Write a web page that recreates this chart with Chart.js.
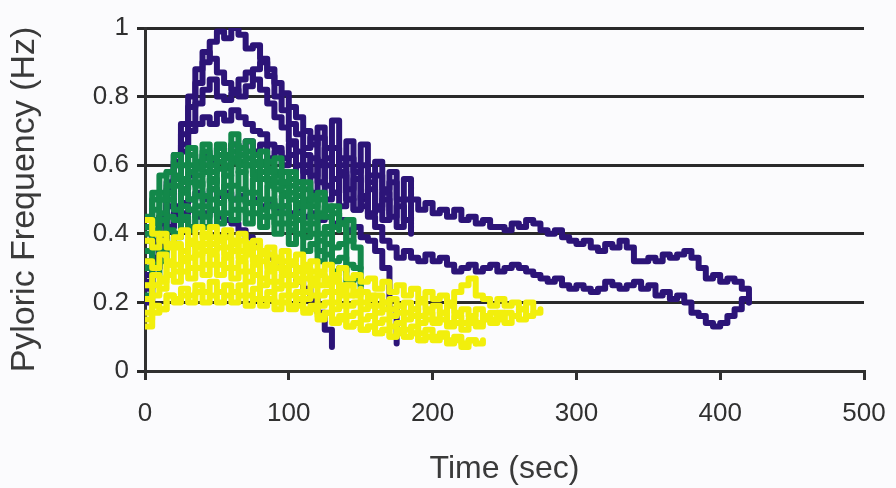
<!DOCTYPE html>
<html>
<head>
<meta charset="utf-8">
<script src="https://cdn.jsdelivr.net/npm/chart.js@4.4.1/dist/chart.umd.min.js"></script>
<style>
  html, body { margin: 0; padding: 0; background: #fbfbfd; }
  #wrap { width: 896px; height: 488px; }
</style>
</head>
<body>
<div id="wrap"><canvas id="pyloric" width="896" height="488"></canvas></div>
<script>
// sample times (sec), shared by every trace
const TIME_SEC = [0,5,10,15,20,25,30,35,40,45,50,55,60,65,70,75,80,85,90,95,
  100,105,110,115,120,125,130,135,140,145,150,155,160,165,170,175,180,185,190,195,
  200,205,210,215,220,225,230,235,240,245,250,255,260,265,270,275,280,285,290,295,
  300,305,310,315,320,325,330,335,340,345,350,355,360,365,370,375,380,385,390,395,
  400,405,410,415,420];

const X_TICKS = ["0", "100", "200", "300", "400", "500"];
const Y_TICKS = ["0", "0.2", "0.4", "0.6", "0.8", "1"];

// purple traces (Hz)
const purpleA = [0.32,0.37,0.43,0.52,0.61,0.69,0.77,0.84,0.9,0.96,0.99,0.97,1.0,0.98,0.94,0.95,0.91,0.88,0.84,0.81,
  0.77,0.74,0.7,0.66,0.71,0.62,0.73,0.6,0.67,0.58,0.66,0.55,0.61,0.53,0.58,0.5,0.56,0.5,0.47,0.49,
  0.46,0.47,0.45,0.47,0.44,0.45,0.43,0.44,0.42,0.42,0.41,0.43,0.42,0.44,0.43,0.41,0.4,0.41,0.39,0.38,
  0.37,0.38,0.36,0.35,0.37,0.36,0.38,0.36,0.32,0.32,0.33,0.32,0.34,0.33,0.34,0.35,0.33,0.3,0.27,0.28,
  0.26,0.27,0.26,0.24,0.2];
const purpleB = [0.28,0.33,0.4,0.48,0.56,0.64,0.72,0.78,0.82,0.85,0.8,0.79,0.81,0.85,0.87,0.85,0.82,0.78,0.74,0.71,
  0.67,0.64,0.6,0.57,0.61,0.54,0.52,0.57,0.5,0.47,0.51,0.45,0.42,0.38,0.36,0.33,0.35,0.33,0.32,0.34,
  0.32,0.33,0.31,0.29,0.3,0.31,0.29,0.3,0.31,0.29,0.3,0.31,0.3,0.29,0.28,0.27,0.26,0.27,0.25,0.24,
  0.25,0.24,0.23,0.24,0.26,0.25,0.24,0.25,0.26,0.24,0.25,0.22,0.23,0.21,0.22,0.2,0.17,0.16,0.14,0.13,
  0.14,0.16,0.18,0.21,0.2];
const purpleF = [0.3,0.38,0.45,0.53,0.6,0.66,0.7,0.72,0.74,0.72,0.75,0.73,0.76,0.74,0.72,0.7,0.69,0.66,0.65,0.62,
  0.63,0.6,0.58,0.62,0.55,0.6,0.52,0.58,0.5,0.56,0.48,0.53,0.47,0.5,0.45,0.48,0.44,0.47];
const purpleG = [0.3,0.37,0.45,0.55,0.63,0.72,0.8,0.88,0.93,0.91,0.87,0.84,0.82,0.8,0.83,0.88,0.9,0.86,0.8,0.76,
  0.72,0.69,0.65,0.68,0.6,0.65,0.56,0.62,0.53,0.6,0.5,0.57,0.48,0.52,0.46];
const purpleE = [0.24,0.3,0.36,0.42,0.48,0.53,0.57,0.6,0.63,0.61,0.65,0.62,0.66,0.63,0.67,0.64,0.66,0.62,0.64,0.6,
  0.66,0.55,0.63,0.52,0.68,0.5,0.65,0.48,0.62,0.47,0.6,0.46,0.57,0.44,0.55,0.42,0.5,0.4];
const purpleC = [0.2,0.3,0.38,0.42,0.45,0.46,0.47,0.45,0.46,0.47,0.45,0.44,0.43,0.41,0.39,0.37,0.35,0.33,0.32,0.3,
  0.28,0.26,0.24,0.21,0.17,0.12,0.07];
const purpleD = [0.26,0.32,0.37,0.42,0.46,0.49,0.5,0.52,0.5,0.53,0.51,0.52,0.5,0.51,0.49,0.5,0.48,0.49,0.47,0.48,
  0.46,0.47,0.45,0.46,0.44,0.45,0.43,0.44,0.41,0.42,0.39,0.38,0.35,0.3,0.18,0.08];

// green traces (Hz)
const green1 = [0.42,0.52,0.5,0.58,0.6,0.56,0.63,0.59,0.64,0.6,0.66,0.62,0.69,0.63,0.67,0.6,0.64,0.58,0.62,0.55,
  0.58,0.53,0.55,0.5,0.52,0.47,0.48,0.43,0.44,0.38];
const green2 = [0.38,0.44,0.52,0.5,0.56,0.53,0.58,0.54,0.6,0.55,0.61,0.57,0.62,0.58,0.6,0.61,0.56,0.59,0.53,0.55,
  0.5,0.53,0.48,0.5,0.45,0.47,0.42,0.43,0.38,0.36,0.3];
const green3 = [0.32,0.41,0.44,0.5,0.47,0.52,0.5,0.55,0.51,0.56,0.52,0.57,0.54,0.58,0.52,0.56,0.5,0.54,0.48,0.51,
  0.45,0.49,0.43,0.45,0.4,0.42,0.36,0.37,0.31,0.3,0.25];
const green4 = [0.25,0.31,0.35,0.41,0.4,0.45,0.42,0.48,0.45,0.5,0.46,0.51,0.47,0.5,0.46,0.49,0.45,0.48,0.43,0.46,
  0.41,0.44,0.39,0.4,0.35,0.37,0.32,0.33,0.29];
const green5 = [0.45,0.5,0.57,0.58,0.63,0.6,0.65,0.61,0.66,0.62,0.65,0.6,0.64,0.6,0.62,0.57,0.6,0.55,0.57,0.52,
  0.54,0.48,0.5,0.45];
const green6 = [0.22,0.28,0.32,0.37,0.39,0.44,0.41,0.46,0.42,0.47,0.43,0.46,0.44,0.47,0.43,0.46,0.42,0.45,0.4,0.43,
  0.37,0.4,0.35,0.37,0.32,0.34,0.29,0.3,0.26,0.27,0.24];
const green7 = [0.35,0.43,0.46,0.52,0.54,0.56,0.55,0.6,0.58,0.62,0.59,0.63,0.61,0.65,0.6,0.63,0.58,0.61,0.55,0.58,
  0.52,0.55,0.49,0.51,0.46,0.48,0.42,0.43,0.37];
const green8 = [0.3,0.36,0.4,0.45,0.44,0.48,0.47,0.51,0.48,0.53,0.49,0.54,0.5,0.53,0.49,0.52,0.47,0.5,0.46,0.48,
  0.43,0.46,0.41,0.43,0.38,0.4,0.35];
const green9 = [0.4,0.47,0.5,0.54,0.57,0.55,0.6,0.57,0.62,0.58,0.63,0.59,0.66,0.61,0.64,0.58,0.61,0.56,0.58,0.54,
  0.56,0.51,0.53,0.48,0.5,0.45,0.46,0.41];

// yellow traces (Hz)
const yellow1 = [0.38,0.36,0.4,0.37,0.39,0.41,0.38,0.42,0.39,0.42,0.38,0.41,0.38,0.4,0.36,0.38,0.35,0.36,0.33,0.35,
  0.32,0.34,0.31,0.32,0.29,0.31,0.28,0.3,0.27,0.28,0.26,0.27,0.24,0.26,0.23,0.25,0.22,0.24,0.21,0.23,
  0.21,0.22,0.2,0.23,0.25,0.27,0.22,0.21,0.19,0.21,0.19,0.2,0.18,0.2,0.17,0.18];
const yellow2 = [0.32,0.3,0.34,0.32,0.36,0.33,0.37,0.34,0.37,0.35,0.38,0.34,0.37,0.33,0.35,0.32,0.34,0.3,0.32,0.29,
  0.31,0.27,0.29,0.26,0.28,0.25,0.26,0.23,0.25,0.22,0.23,0.21,0.22,0.2,0.21,0.19,0.2,0.18,0.2,0.18,
  0.19,0.17,0.19,0.17,0.18,0.16,0.18,0.16,0.17,0.15,0.17,0.16,0.18,0.16,0.17];
const yellow3 = [0.25,0.28,0.27,0.31,0.29,0.32,0.3,0.34,0.31,0.34,0.31,0.33,0.3,0.32,0.29,0.31,0.27,0.29,0.26,0.28,
  0.25,0.26,0.23,0.25,0.22,0.23,0.2,0.22,0.19,0.2,0.18,0.19,0.17,0.18,0.16,0.17,0.15,0.16,0.14,0.15,
  0.14,0.15,0.13,0.14,0.12,0.14,0.13,0.15,0.14,0.16,0.14,0.16,0.15,0.16];
const yellow4 = [0.17,0.22,0.24,0.28,0.26,0.29,0.27,0.3,0.28,0.31,0.28,0.3,0.27,0.29,0.26,0.28,0.25,0.26,0.24,0.25,
  0.22,0.23,0.21,0.22,0.19,0.2,0.18,0.19,0.16,0.17,0.15,0.16,0.14,0.15,0.13,0.14,0.12,0.13,0.11,0.12,
  0.1,0.11,0.09,0.1,0.08,0.09,0.08];
const yellow5 = [0.13,0.17,0.18,0.22,0.21,0.24,0.22,0.25,0.23,0.26,0.23,0.25,0.23,0.25,0.22,0.24,0.21,0.23,0.2,0.22,
  0.19,0.21,0.18,0.19,0.16,0.17,0.15,0.16,0.13,0.14,0.12,0.13,0.11,0.12,0.1,0.12,0.1,0.11,0.09,0.1,
  0.09,0.1,0.08,0.09,0.07,0.09,0.08,0.09];
const yellow6 = [0.21,0.25,0.26,0.31,0.31,0.35,0.33,0.37,0.35,0.39,0.36,0.39,0.35,0.38,0.34,0.36,0.32,0.34,0.3,0.32,
  0.28,0.3,0.27,0.29,0.25,0.27,0.23,0.25,0.22,0.23,0.2,0.22,0.19,0.2,0.18,0.19,0.17,0.18,0.16,0.17,
  0.15,0.17,0.14,0.16,0.14,0.15,0.14,0.16,0.15,0.17,0.15];
const yellow7 = [0.15,0.19,0.18,0.22,0.2,0.22,0.2,0.23,0.2,0.22,0.2,0.22,0.2,0.22,0.19,0.21,0.19,0.21,0.18,0.2,
  0.18,0.19,0.17,0.18,0.15,0.17,0.14,0.15,0.13,0.14,0.12,0.13,0.11,0.12,0.1,0.11,0.1,0.11,0.09,0.1,0.1];
const yellow8 = [0.44,0.4,0.38,0.36,0.37,0.35,0.38,0.36,0.4,0.37,0.39,0.36,0.38,0.35,0.37,0.33,0.35,0.31,0.33,0.3,
  0.31,0.29,0.3,0.27,0.28,0.26,0.27,0.24,0.25,0.23,0.24];

const PURPLE = "#2c1478";
const GREEN  = "#13884a";
const YELLOW = "#f2ef0c";

function toPoints(values) {
  return values.map((v, i) => ({ x: TIME_SEC[i], y: v }));
}

// lower order is drawn on top: yellow over green over purple
function trace(values, color, order) {
  return {
    data: toPoints(values),
    borderColor: color,
    backgroundColor: color,
    borderWidth: 6,
    borderJoinStyle: "round",
    borderCapStyle: "round",
    stepped: true,
    pointRadius: 0,
    fill: false,
    order: order
  };
}

const purples = [purpleA, purpleB, purpleF, purpleG, purpleE, purpleC, purpleD];
const greens  = [green1, green2, green3, green4, green5, green6, green7, green8, green9];
const yellows = [yellow1, yellow2, yellow3, yellow4, yellow5, yellow6, yellow7, yellow8];

const datasets = [
  ...purples.map(s => trace(s, PURPLE, 3)),
  ...greens.map(s => trace(s, GREEN, 2)),
  ...yellows.map(s => trace(s, YELLOW, 1))
];

const INK = "#303030";
const FONT = "'Liberation Sans', Arial, sans-serif";

new Chart(document.getElementById("pyloric").getContext("2d"), {
  type: "line",
  data: { datasets },
  options: {
    responsive: false,
    animation: false,
    layout: { padding: { top: 28, right: 32, bottom: 0, left: 0 } },
    plugins: { legend: { display: false }, tooltip: { enabled: false } },
    scales: {
      x: {
        type: "linear", min: 0, max: 500,
        // fixed height; the "500" label may hang into the right padding
        afterFit: s => { s.height = 117; s.paddingLeft = 0; s.paddingRight = 0; },
        ticks: {
          stepSize: 100, color: INK, padding: 18,
          font: { family: FONT, size: 26 },
          callback: (v) => X_TICKS[Math.round(v / 100)]
        },
        grid: { drawOnChartArea: false, drawTicks: true, tickLength: 9, color: INK, lineWidth: 3 },
        border: { color: INK, width: 3 },
        title: { display: true, text: "Time (sec)", color: "#3a3a3a", padding: { top: 0, bottom: 0 },
                 font: { family: FONT, size: 32 } }
      },
      y: {
        min: 0, max: 1,
        afterFit: s => { s.width = 145; },
        ticks: {
          stepSize: 0.2, color: INK, padding: 8,
          font: { family: FONT, size: 26 },
          callback: (v) => Y_TICKS[Math.round(v * 5)]
        },
        grid: { color: "#2a2a2a", lineWidth: 3, tickLength: 8 },
        border: { color: INK, width: 3 },
        title: { display: true, text: "Pyloric Frequency (Hz)", color: "#3a3a3a", padding: { top: 4, bottom: 0 },
                 font: { family: FONT, size: 34 } }
      }
    }
  }
});
</script>
</body>
</html>
